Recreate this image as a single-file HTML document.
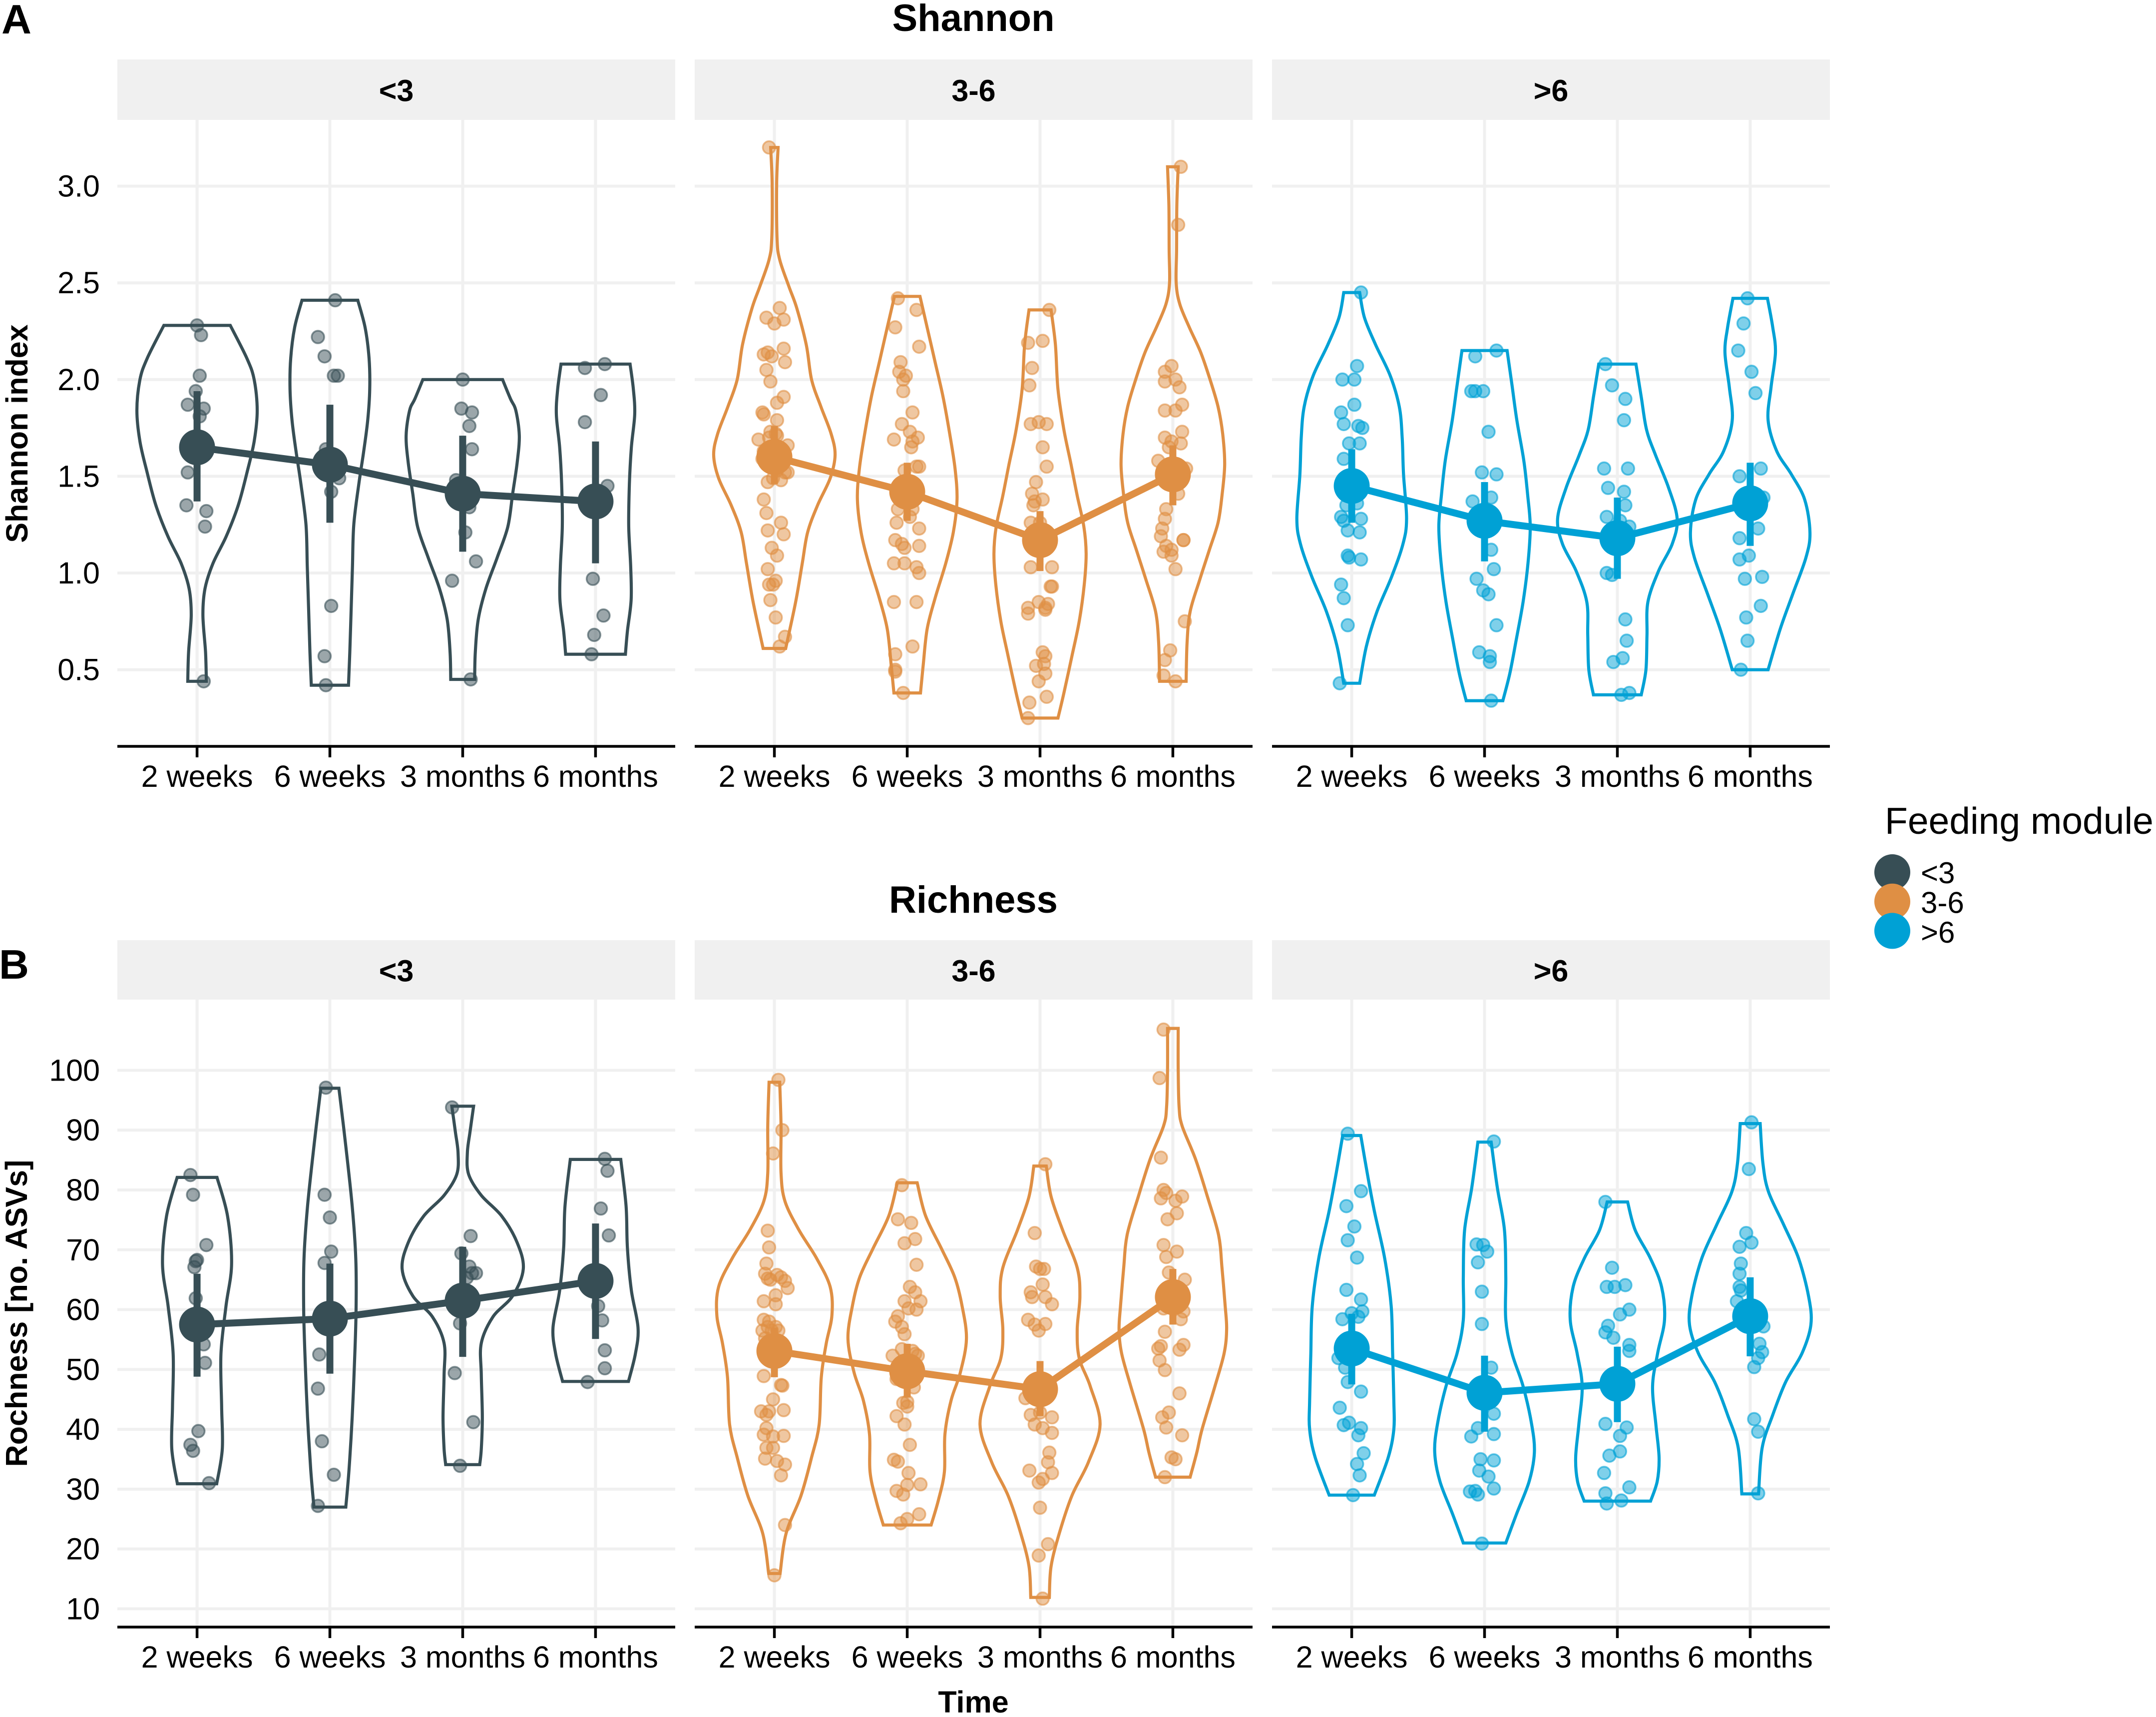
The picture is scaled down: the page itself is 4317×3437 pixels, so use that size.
<!DOCTYPE html>
<html lang="en">
<head>
<meta charset="utf-8">
<title>Shannon and Richness by feeding module</title>
<style>
html,body{margin:0;padding:0;background:#fff}
svg{display:block;font-family:"Liberation Sans",Arial,sans-serif}
</style>
</head>
<body>
<svg id="chart" xmlns="http://www.w3.org/2000/svg" width="4317" height="3437" viewBox="0 0 4317 3437">
<rect width="4317" height="3437" fill="#fff"/>
<text x="3" y="67" font-size="83" font-weight="700">A</text>
<text x="-2" y="1959" font-size="83" font-weight="700">B</text>
<text x="1949" y="62" font-size="76" font-weight="700" text-anchor="middle">Shannon</text>
<text x="1949" y="1827" font-size="76" font-weight="700" text-anchor="middle">Richness</text>
<text transform="translate(55,868) rotate(-90)" font-size="61" font-weight="700" text-anchor="middle">Shannon index</text>
<text transform="translate(54,2629) rotate(-90)" font-size="61" font-weight="700" text-anchor="middle">Rochness [no. ASVs]</text>
<text x="1949" y="3428" font-size="61" font-weight="700" text-anchor="middle">Time</text>
<text x="3774" y="1669" font-size="75">Feeding module</text>
<g id="plots"></g>
<g id="legend"></g>
</svg>
<script>
const timeLabels = ['2 weeks', '6 weeks', '3 months', '6 months'];
const moduleLabels = ['<3', '3-6', '>6'];
const moduleColors = ['#374E55', '#DF8F44', '#00A1D5'];
const shannonTicks = [0.5, 1.0, 1.5, 2.0, 2.5, 3.0];
const richnessTicks = [10, 20, 30, 40, 50, 60, 70, 80, 90, 100];

const shannonMeans = [[1.65, 1.56, 1.41, 1.37], [1.60, 1.42, 1.17, 1.51], [1.45, 1.27, 1.18, 1.36]];
const shannonLow = [[1.37, 1.26, 1.11, 1.05], [1.46, 1.27, 1.01, 1.35], [1.26, 1.06, 0.97, 1.14]];
const shannonHigh = [[1.94, 1.87, 1.71, 1.68], [1.76, 1.57, 1.32, 1.66], [1.64, 1.47, 1.39, 1.57]];
const richnessMeans = [[57.5, 58.5, 61.5, 64.8], [53.1, 49.7, 46.7, 62.1], [53.5, 46.1, 47.6, 58.9]];
const richnessLow = [[48.8, 49.3, 52.1, 55.1], [48.7, 45.3, 42.2, 57.5], [47.5, 39.6, 41.2, 52.2]];
const richnessHigh = [[66, 67.7, 70.5, 74.4], [57, 54.3, 51.4, 66.8], [59.3, 52.3, 53.8, 65.4]];

// violin outlines: [value, half-width in category units]
const shannonViolins = [
[
 [[2.28,.25],[2.11,.375],[2.0,.43],[1.84,.453],[1.68,.43],[1.52,.376],[1.35,.31],[1.19,.22],[1.05,.12],[.92,.06],[.78,.044],[.59,.064],[.44,.07]],
 [[2.41,.21],[2.27,.265],[2.11,.295],[1.95,.30],[1.79,.285],[1.63,.255],[1.47,.22],[1.25,.18],[1.03,.17],[.81,.16],[.59,.15],[.42,.14]],
 [[2.0,.30],[1.9,.36],[1.84,.40],[1.71,.426],[1.57,.41],[1.41,.376],[1.24,.34],[1.08,.26],[.92,.175],[.76,.117],[.59,.095],[.45,.09]],
 [[2.08,.26],[1.95,.285],[1.82,.295],[1.65,.27],[1.46,.255],[1.24,.25],[1.03,.265],[.86,.268],[.70,.24],[.58,.225]]
],
[
 [[3.2,.028],[3.01,.017],[2.73,.02],[2.62,.04],[2.48,.11],[2.37,.168],[2.18,.24],[2.0,.28],[1.86,.35],[1.72,.427],[1.61,.457],[1.49,.42],[1.35,.325],[1.21,.25],[1.05,.21],[.85,.16],[.61,.085]],
 [[2.43,.096],[2.27,.15],[2.09,.21],[1.91,.27],[1.72,.32],[1.54,.36],[1.38,.375],[1.21,.347],[1.05,.29],[.87,.21],[.71,.15],[.52,.12],[.38,.10]],
 [[2.36,.083],[2.18,.116],[1.95,.135],[1.74,.18],[1.56,.234],[1.40,.28],[1.24,.33],[1.10,.347],[.94,.333],[.75,.295],[.57,.24],[.38,.18],[.25,.135]],
 [[3.10,.04],[2.90,.03],[2.67,.028],[2.5,.025],[2.39,.052],[2.27,.124],[2.14,.21],[2.0,.28],[1.86,.34],[1.72,.375],[1.56,.39],[1.4,.37],[1.26,.34],[1.12,.275],[.96,.2],[.8,.13],[.64,.107],[.44,.1]]
],
[
 [[2.45,.06],[2.32,.096],[2.18,.18],[2.02,.29],[1.86,.358],[1.70,.38],[1.51,.39],[1.28,.413],[1.15,.386],[.98,.30],[.8,.19],[.62,.11],[.43,.06]],
 [[2.15,.17],[1.97,.207],[1.79,.243],[1.58,.296],[1.40,.325],[1.24,.344],[1.05,.327],[.85,.29],[.66,.24],[.48,.19],[.34,.138]],
 [[2.08,.14],[1.91,.18],[1.74,.22],[1.61,.287],[1.44,.386],[1.28,.45],[1.15,.413],[1.01,.31],[.85,.23],[.68,.223],[.5,.215],[.37,.18]],
 [[2.42,.13],[2.27,.17],[2.14,.19],[1.96,.157],[1.79,.135],[1.63,.2],[1.51,.31],[1.38,.41],[1.21,.45],[1.08,.42],[.89,.32],[.71,.226],[.5,.135]]
]
];
const richnessViolins = [
[
 [[82.1,.15],[75.6,.23],[67.6,.26],[60.6,.218],[52.6,.18],[43.8,.185],[36.7,.19],[30.9,.148]],
 [[97,.068],[87.9,.117],[77.3,.168],[68.5,.195],[59.7,.197],[50.9,.185],[42,.168],[33.2,.144],[27,.12]],
 [[94,.082],[89.7,.055],[86.2,.035],[82.6,.045],[79.1,.14],[75.6,.295],[71.2,.41],[66.8,.456],[62.3,.376],[58.8,.228],[54.4,.14],[49.1,.14],[42,.148],[36.7,.14],[34.1,.128]],
 [[85.1,.19],[77.3,.23],[70.3,.24],[63.2,.27],[57,.32],[52.6,.30],[48,.248]]
],
[
 [[98,.04],[90.7,.05],[82.8,.05],[78.1,.08],[73.3,.185],[68.6,.317],[63.8,.42],[59,.433],[54.3,.39],[48.7,.353],[40.8,.337],[35.3,.28],[28.9,.2],[22.6,.088],[15.9,.043]],
 [[81.2,.075],[75.7,.138],[70.1,.26],[65.4,.358],[60.6,.413],[55.1,.446],[49.5,.40],[44.8,.33],[39.2,.284],[32.9,.28],[28.1,.234],[24,.18]],
 [[84,.047],[78.9,.083],[73.3,.17],[67,.28],[62.2,.30],[56.7,.28],[51.9,.295],[47.2,.378],[40.8,.452],[34.5,.364],[28.9,.24],[22.6,.145],[17.1,.083],[11.9,.07]],
 [[107,.04],[100.3,.04],[93.9,.047],[90.7,.07],[85.2,.17],[78.9,.26],[72.5,.344],[67,.37],[60.6,.394],[56.7,.405],[52.7,.386],[47.2,.317],[40,.22],[36.1,.18],[32,.13]]
],
[
 [[89.1,.068],[82.8,.117],[76.5,.17],[68.6,.248],[60.6,.297],[52.7,.308],[44.8,.317],[40,.317],[35.3,.275],[29,.17]],
 [[88,.05],[80.4,.096],[73.3,.15],[65.4,.16],[58.3,.16],[52.7,.207],[47.2,.29],[40.8,.355],[36.1,.375],[31.3,.336],[25.8,.24],[21,.16]],
 [[78,.077],[73.3,.134],[68.6,.248],[63.8,.333],[58.3,.355],[52.7,.303],[47.2,.265],[40.8,.29],[35.3,.314],[31.3,.30],[28,.25]],
 [[91.1,.075],[84.4,.096],[79.7,.138],[74.1,.254],[68.6,.364],[62.2,.44],[57.5,.457],[52.7,.39],[47.9,.267],[42.4,.17],[36.9,.09],[29.2,.063]]
]
];

// individual samples: [jitter in category units, value]
const shannonPoints = [
[
 [[0,2.28],[.03,2.23],[.02,2.02],[-.01,1.94],[-.07,1.87],[.05,1.85],[.02,1.81],[-.07,1.52],[-.08,1.35],[.07,1.32],[.06,1.24],[.05,.44]],
 [[.04,2.41],[-.09,2.22],[-.04,2.12],[.03,2.02],[.06,2.02],[-.03,1.64],[.07,1.49],[.01,1.42],[.01,.83],[-.04,.57],[-.03,.42]],
 [[0,2.0],[-.01,1.85],[.07,1.83],[.05,1.76],[.07,1.64],[-.05,1.48],[.05,1.34],[.02,1.21],[.10,1.06],[-.08,.96],[.06,.45]],
 [[-.08,2.06],[.07,2.08],[.04,1.92],[-.08,1.78],[.09,1.45],[-.02,1.38],[-.02,.97],[.06,.78],[-.01,.68],[-.03,.58]]
],
[
 [[-.04,3.2],[.04,2.37],[-.06,2.32],[0,2.29],[.07,2.31],[-.08,2.13],[-.05,2.14],[-.02,2.12],[.07,2.16],[.08,2.09],[-.06,2.05],[-.03,1.99],[.07,1.91],[.02,1.88],[-.09,1.83],[-.08,1.82],[.02,1.79],[-.03,1.73],[.01,1.72],[-.04,1.70],[.02,1.71],[-.12,1.69],[.10,1.66],[-.08,1.63],[-.09,1.59],[.08,1.52],[.10,1.52],[.02,1.53],[.05,1.48],[-.01,1.49],[-.05,1.47],[-.08,1.38],[-.06,1.31],[.05,1.26],[-.05,1.22],[.07,1.2],[-.02,1.13],[.02,1.09],[-.05,1.02],[.01,.96],[-.04,.94],[-.01,.94],[-.03,.86],[.01,.77],[.08,.67],[.04,.62]],
 [[-.07,2.42],[.07,2.36],[-.09,2.27],[.09,2.17],[-.05,2.09],[-.06,2.04],[-.01,2.02],[-.03,2.0],[-.03,1.94],[.04,1.83],[-.04,1.77],[.02,1.73],[.08,1.7],[-.10,1.69],[.04,1.68],[.03,1.65],[.07,1.55],[.09,1.55],[-.02,1.53],[.01,1.40],[-.07,1.33],[.04,1.33],[.02,1.29],[-.08,1.26],[.09,1.23],[-.09,1.17],[-.04,1.15],[-.02,1.13],[.09,1.14],[-.10,1.05],[-.02,1.05],[.07,1.03],[.09,1.0],[-.10,.85],[.07,.85],[.04,.62],[-.09,.58],[-.09,.5],[-.09,.49],[-.03,.38]],
 [[.07,2.36],[-.09,2.19],[.02,2.2],[-.06,2.06],[-.08,1.97],[-.07,1.77],[-.01,1.78],[.05,1.77],[.02,1.65],[.05,1.55],[-.03,1.47],[-.06,1.41],[.02,1.38],[-.04,1.37],[-.05,1.35],[-.07,1.26],[0,1.26],[-.07,1.03],[.09,1.03],[.08,.93],[.09,.93],[-.01,.85],[-.09,.82],[-.09,.79],[.06,.84],[.04,.82],[.04,.81],[.02,.59],[.04,.57],[-.03,.52],[.03,.53],[.04,.48],[-.01,.44],[.05,.36],[-.08,.33],[-.09,.25]],
 [[.06,3.10],[.04,2.80],[-.01,2.07],[-.06,2.04],[.02,2.0],[-.06,1.99],[.05,1.96],[.07,1.87],[-.06,1.84],[.02,1.84],[.07,1.73],[-.06,1.70],[.06,1.67],[-.03,1.65],[-.01,1.68],[-.11,1.58],[.10,1.54],[-.06,1.53],[.04,1.41],[-.05,1.33],[-.06,1.28],[-.08,1.23],[-.09,1.19],[.08,1.17],[.08,1.17],[-.05,1.14],[-.01,1.12],[-.07,1.11],[-.01,1.09],[.02,1.02],[.09,.75],[-.02,.6],[-.06,.55],[-.07,.47],[.02,.44]]
],
[
 [[.07,2.45],[.04,2.07],[-.07,2.0],[.02,2.0],[.02,1.87],[-.08,1.83],[-.06,1.77],[.05,1.76],[.08,1.75],[-.02,1.67],[.06,1.67],[-.06,1.59],[-.04,1.35],[.04,1.36],[-.08,1.29],[-.06,1.27],[.07,1.28],[-.03,1.22],[.06,1.21],[-.03,1.09],[-.02,1.08],[.07,1.07],[-.08,.94],[-.06,.87],[-.03,.73],[-.09,.43]],
 [[.09,2.15],[-.07,2.12],[-.10,1.94],[-.07,1.94],[-.01,1.94],[.03,1.73],[-.02,1.52],[.09,1.51],[.05,1.39],[-.09,1.37],[-.06,1.26],[.05,1.12],[.07,1.02],[-.06,.97],[-.01,.91],[.03,.89],[.09,.73],[-.04,.59],[.04,.57],[.04,.54],[.05,.34]],
 [[-.09,2.08],[-.04,1.97],[.06,1.90],[.05,1.79],[-.10,1.54],[.08,1.54],[-.07,1.44],[.05,1.42],[.06,1.35],[-.08,1.29],[.09,1.24],[.02,1.27],[-.08,1.0],[-.04,.99],[.06,.76],[.07,.65],[-.03,.54],[.04,.56],[.03,.37],[.09,.38]],
 [[-.02,2.42],[-.05,2.29],[-.09,2.15],[.01,2.04],[.04,1.93],[-.08,1.50],[.08,1.54],[.10,1.39],[.06,1.23],[-.08,1.18],[-.01,1.09],[-.08,1.07],[.09,.98],[-.04,.97],[.08,.83],[-.03,.77],[-.02,.65],[-.07,.5]]
]
];
const richnessPoints = [
[
 [[-.05,82.5],[-.03,79.2],[.07,70.8],[0,68.3],[-.01,68.1],[-.02,67.1],[-.01,61.9],[.05,54.2],[.06,51.1],[.01,39.7],[-.05,37.4],[-.03,36.4],[.09,31]],
 [[-.03,97.1],[-.04,79.2],[0,75.4],[.01,69.7],[-.04,67.8],[-.08,52.5],[-.09,46.8],[-.06,38],[.03,32.4],[-.09,27.2]],
 [[-.08,93.8],[.06,72.3],[-.01,69.4],[.05,67.2],[.07,66.1],[.10,66.1],[.03,65.3],[-.02,57.7],[-.06,49.4],[.08,41.2],[-.02,33.9]],
 [[.07,85.2],[.09,83.2],[.04,76.9],[.10,72.4],[.02,60.6],[.05,58.2],[.07,53.2],[.07,50.2],[-.06,47.9]]
],
[
 [[.03,98.4],[.06,90],[-.01,86.1],[-.05,73.2],[-.04,70.4],[-.06,67.7],[-.07,66],[-.05,65.2],[-.03,65],[.02,65.8],[.05,65.4],[.08,64.8],[.10,63.6],[.01,62.4],[.01,60.9],[-.08,61.4],[-.08,58.3],[-.04,58],[-.09,56.5],[-.02,56.5],[.03,56.5],[-.07,55.2],[-.05,57.1],[.01,57.1],[-.08,48.9],[.06,47.3],[.05,47.4],[-.01,45],[-.10,43],[-.04,43],[-.06,42.4],[.07,43.2],[-.06,40.2],[-.08,39.1],[-.01,38.8],[.07,38.9],[-.06,36.9],[-.01,36.9],[-.07,35.1],[.02,34.7],[.08,34.1],[.05,32.3],[.08,24],[0,15.6]],
 [[-.04,80.8],[-.07,75.1],[.03,74.5],[.06,71.8],[-.02,71.1],[.07,67.5],[.02,63.8],[.06,62.9],[.10,61.4],[-.02,61.4],[.01,60.2],[.07,60],[-.07,58.9],[-.09,58],[-.04,57.1],[-.02,55.9],[-.11,52.3],[-.04,53.4],[.06,52.6],[.04,53.1],[.08,52.3],[-.08,48.4],[.05,47],[-.03,44.4],[0,44.6],[0,43.8],[-.08,42.2],[-.02,40.8],[.02,37.4],[-.10,34.9],[-.07,34.6],[.01,32.7],[.10,30.8],[0,30.7],[-.08,29.7],[-.03,29.1],[.09,25.8],[0,25],[-.05,24.3]],
 [[.04,84.3],[-.04,72.8],[-.03,67.2],[.03,66.8],[0,66.8],[.02,64.2],[-.07,62.9],[-.06,62.1],[.04,62.1],[.09,60.9],[-.09,58.3],[-.04,57.5],[-.01,56.5],[.04,57.6],[-.11,45.2],[-.07,42.4],[0,42.8],[.09,42],[-.04,40.8],[.02,40.2],[.09,39.4],[.07,36.1],[.06,34.5],[.09,32.7],[-.08,33.1],[.02,31.7],[-.01,31.1],[0,26.9],[.06,20.8],[-.01,18.9],[.02,11.7]],
 [[-.07,106.8],[-.10,98.7],[-.09,85.4],[-.07,80],[-.05,79.5],[.07,78.9],[-.09,78.6],[.02,78.2],[.03,76.1],[-.04,75.1],[-.07,70.8],[.03,69.7],[-.05,68.8],[-.03,66.2],[.09,65],[-.07,60.2],[.06,58.4],[.08,59.7],[-.06,56.3],[.08,54.1],[-.11,53.5],[-.09,53.9],[-.10,51.5],[.05,53.3],[-.06,49.9],[.05,46],[-.03,42.8],[-.08,42],[-.05,40.3],[.07,39],[-.01,35.3],[.02,35],[-.06,32]]
],
[
 [[-.03,89.4],[.07,79.8],[-.04,77.3],[.02,73.9],[-.03,71.6],[.04,68.7],[-.04,63.3],[.07,61.7],[0,59.4],[.08,59.7],[-.07,58.4],[.05,58.8],[-.10,51.9],[-.05,50.3],[-.03,47.9],[.07,46.3],[-.09,43.6],[-.06,40.7],[-.02,41.1],[.07,40.2],[.05,39],[.09,36],[.04,34.2],[.06,32.3],[.01,29]],
 [[.07,88.1],[-.06,70.9],[-.01,70.8],[.02,69.7],[-.05,67.9],[-.02,63],[-.02,57.6],[.05,50.3],[.07,42.6],[-.05,40.2],[-.10,38.8],[.07,39.2],[-.03,35],[.07,34.8],[-.04,33.1],[.03,32.1],[.07,30.1],[-.11,29.6],[-.07,29.7],[-.05,29.1],[-.02,20.9]],
 [[-.09,78],[-.04,67],[-.08,63.8],[-.02,63.8],[.06,64.1],[.02,59.2],[.09,60],[-.07,57.3],[-.09,56.2],[-.03,55.3],[.09,54.1],[.09,53.1],[-.09,40.9],[.07,40.3],[.02,38.9],[.02,36.3],[-.06,35.6],[-.10,32.7],[.09,30.3],[-.09,29.3],[.03,28.1],[-.08,27.6]],
 [[.01,91.3],[-.01,83.5],[-.03,72.8],[-.08,70.5],[.01,71.2],[-.07,67.7],[-.08,66],[-.08,63.8],[-.07,63.2],[-.10,61.4],[.10,57.2],[.07,54.3],[.09,52.9],[.06,51.9],[.03,50.4],[.03,41.7],[.06,39.6],[.06,29.3]]
]
];

const legendLabels = moduleLabels;

const SVG_NS = 'http://www.w3.org/2000/svg';
const plots = document.getElementById('plots');
const legend = document.getElementById('legend');
const panelLefts = [235, 1391, 2547];
const panelWidth = 1117;
const categoryUnit = panelWidth / 4.2;

function make(tag, attrs, parent) {
  const node = document.createElementNS(SVG_NS, tag);
  Object.keys(attrs).forEach(function (k) { node.setAttribute(k, attrs[k]); });
  parent.appendChild(node);
  return node;
}
function xAxis(panel, i, offset) {
  return panelLefts[panel] + categoryUnit * (0.6 + i + (offset || 0));
}
function smooth(pts) {
  let d = '';
  for (let i = 0; i < pts.length - 1; i++) {
    const p0 = pts[Math.max(i - 1, 0)], p1 = pts[i], p2 = pts[i + 1], p3 = pts[Math.min(i + 2, pts.length - 1)];
    const c1x = p1[0] + (p2[0] - p0[0]) / 6, c1y = p1[1] + (p2[1] - p0[1]) / 6;
    const c2x = p2[0] - (p3[0] - p1[0]) / 6, c2y = p2[1] - (p3[1] - p1[1]) / 6;
    d += 'C' + c1x.toFixed(1) + ' ' + c1y.toFixed(1) + ' ' + c2x.toFixed(1) + ' ' + c2y.toFixed(1) + ' ' + p2[0].toFixed(1) + ' ' + p2[1].toFixed(1);
  }
  return d;
}
function violinPath(panel, i, profile, y) {
  const right = profile.map(function (p) { return [xAxis(panel, i, p[1]), y(p[0])]; });
  const left = profile.slice().reverse().map(function (p) { return [xAxis(panel, i, -p[1]), y(p[0])]; });
  return 'M' + right[0][0].toFixed(1) + ' ' + right[0][1].toFixed(1) + smooth(right) +
    'L' + left[0][0].toFixed(1) + ' ' + left[0][1].toFixed(1) + smooth(left) + 'Z';
}

function drawRow(cfg) {
  const y = cfg.y;
  moduleLabels.forEach(function (label, m) {
    const left = panelLefts[m];
    const group = make('g', {}, plots);
    
    

    const strip = make('rect', { x: left, y: cfg.stripTop, width: panelWidth, height: cfg.panelTop - cfg.stripTop, fill: '#f0f0f0' }, group);
    
    

    const stripText = make('text', { x: left + panelWidth / 2, y: (cfg.stripTop + cfg.panelTop) / 2 + 23, 'font-size': 61, 'font-weight': 700, 'text-anchor': 'middle' }, group);
    stripText.textContent = label;
    
    

    cfg.ticks.forEach(function (t) {
      const g = make('line', { x1: left, x2: left + panelWidth, y1: y(t), y2: y(t), stroke: '#f0f0f0', 'stroke-width': 6 }, group);
      
      
      if (m === 0) {
        const tl = make('text', { x: 200, y: y(t) + 21, 'font-size': 61, 'text-anchor': 'end', fill: '#000' }, group);
        tl.textContent = cfg.format(t);
        
        
      }
    });

    timeLabels.forEach(function (time, i) {
      const x = xAxis(m, i);
      const g = make('line', { x1: x, x2: x, y1: cfg.panelTop, y2: cfg.axisY, stroke: '#f0f0f0', 'stroke-width': 6 }, group);
      
      
    });

    const axis = make('line', { x1: left, x2: left + panelWidth, y1: cfg.axisY, y2: cfg.axisY, stroke: '#000', 'stroke-width': 5.5 }, group);
    
    

    timeLabels.forEach(function (time, i) {
      const x = xAxis(m, i);
      const tick = make('line', { x1: x, x2: x, y1: cfg.axisY, y2: cfg.axisY + 22, stroke: '#000', 'stroke-width': 5.5 }, group);
      
      
      const tl = make('text', { x: x, y: cfg.axisY + 81, 'font-size': 61, 'text-anchor': 'middle', fill: '#000' }, group);
      tl.textContent = time;
      
      
    });

    const color = moduleColors[m];
    cfg.violins[m].forEach(function (profile, i) {
      const v = make('path', { d: violinPath(m, i, profile, y), fill: 'none', stroke: color, 'stroke-width': 6.2, 'stroke-linejoin': 'miter' }, group);
      
      
    });
    cfg.points[m].forEach(function (set, i) {
      set.forEach(function (p) {
        const c = make('circle', { cx: xAxis(m, i, p[0]), cy: y(p[1]), r: 12.5, fill: color, 'fill-opacity': 0.5, stroke: color, 'stroke-opacity': 0.6, 'stroke-width': 3.5 }, group);
        
        
      });
    });
    cfg.low[m].forEach(function (low, i) {
      const x = xAxis(m, i);
      const ci = make('line', { x1: x, x2: x, y1: y(low), y2: y(cfg.high[m][i]), stroke: color, 'stroke-width': 14 }, group);
      
      
    });
    const line = make('polyline', {
      points: cfg.means[m].map(function (v, i) { return xAxis(m, i).toFixed(1) + ',' + y(v).toFixed(1); }).join(' '),
      fill: 'none', stroke: color, 'stroke-width': 14
    }, group);
    
    
    cfg.means[m].forEach(function (v, i) {
      const c = make('circle', { cx: xAxis(m, i), cy: y(v), r: 36, fill: color }, group);
      
      
    });
  });
}

drawRow({
  name: 'shannon',
  y: function (v) { return 1340.6 - (v - 0.5) * 387.2; },
  ticks: shannonTicks,
  format: function (t) { return t.toFixed(1); },
  stripTop: 119, panelTop: 240, axisY: 1494,
  violins: shannonViolins, points: shannonPoints,
  means: shannonMeans, low: shannonLow, high: shannonHigh
});
drawRow({
  name: 'richness',
  y: function (v) { return 3220.4 - (v - 10) * 11.977; },
  ticks: richnessTicks,
  format: function (t) { return String(t); },
  stripTop: 1882, panelTop: 2001, axisY: 3257,
  violins: richnessViolins, points: richnessPoints,
  means: richnessMeans, low: richnessLow, high: richnessHigh
});

legendLabels.forEach(function (label, i) {
  const c = make('circle', { cx: 3789, cy: 1746 + i * 58.7, r: 36, fill: moduleColors[i] }, legend);
  
  
  const t = make('text', { x: 3846, y: 1768 + i * 59.5, 'font-size': 60 }, legend);
  t.textContent = label;
  
  
});
</script>
</body>
</html>
